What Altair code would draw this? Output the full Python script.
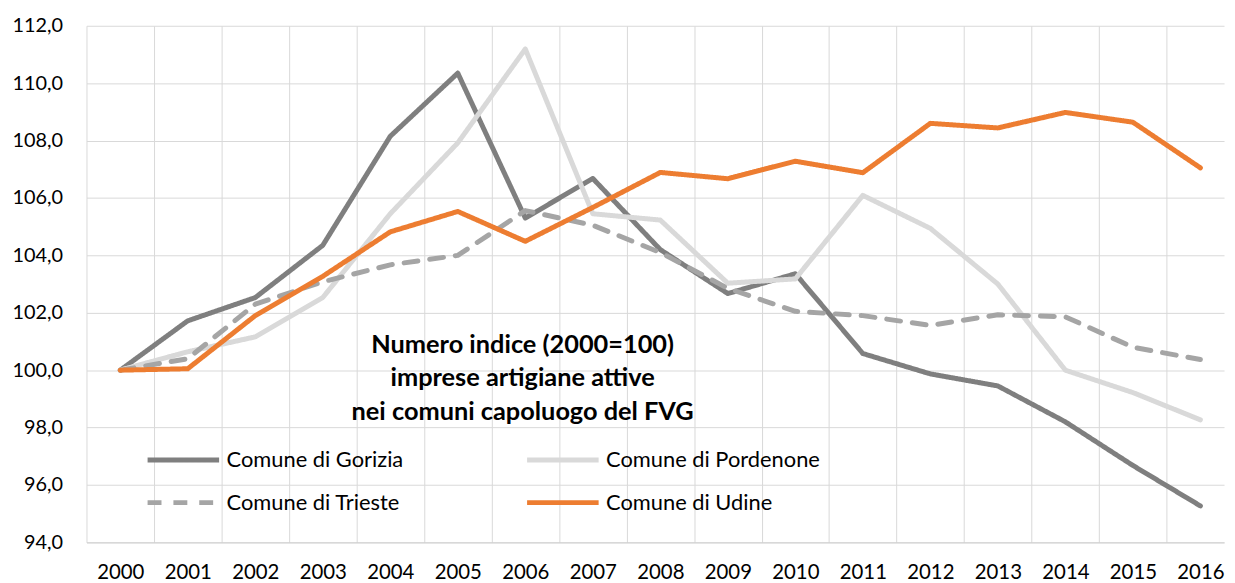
import altair as alt
import pandas as pd

years = list(range(2000, 2017))
gorizia = [100.0, 101.72, 102.53, 104.35, 108.15, 110.35, 105.3, 106.68, 104.2, 102.67, 103.36, 100.58, 99.87, 99.45, 98.2, 96.68, 95.27]
pordenone = [100.0, 100.64, 101.16, 102.53, 105.45, 107.92, 111.19, 105.45, 105.23, 103.03, 103.18, 106.09, 104.94, 103.0, 100.0, 99.22, 98.27]
trieste = [100.0, 100.4, 102.3, 103.08, 103.67, 104.0, 105.56, 105.05, 104.1, 102.85, 102.05, 101.9, 101.56, 101.93, 101.86, 100.8, 100.37]
udine = [100.0, 100.05, 101.9, 103.27, 104.82, 105.53, 104.49, 105.67, 106.89, 106.67, 107.28, 106.88, 108.6, 108.44, 108.98, 108.64, 107.05]

series_names = ["Comune di Gorizia", "Comune di Pordenone", "Comune di Trieste", "Comune di Udine"]
series_values = [gorizia, pordenone, trieste, udine]
series_colors = ["#7f7f7f", "#d9d9d9", "#a5a5a5", "#ed7d31"]
series_dash = [[1, 0], [1, 0], [14, 12], [1, 0]]

title_lines = ["Numero indice (2000=100)", "imprese artigiane attive", "nei comuni capoluogo del FVG"]
y_ticks = list(range(94, 113, 2))
grid_bounds = [y - 0.5 for y in years]

rows = []
for name, vals in zip(series_names, series_values):
    for yr, v in zip(years, vals):
        rows.append({"anno": yr, "indice": v, "comune": name})
df = pd.DataFrame(rows)

FONT = "Lato"
xscale = alt.Scale(domain=[1999.5, 2016.35], nice=False, zero=False)
yscale = alt.Scale(domain=[94, 112], nice=False, zero=False)

legend = alt.Legend(
    title=None, orient="none", legendX=59, legendY=427, columns=2, direction="horizontal",
    symbolType="stroke", symbolSize=5184, symbolStrokeWidth=5,
    labelFontSize=22, labelFont=FONT, labelColor="black", labelOffset=5,
    labelLimit=400, clipHeight=20, rowPadding=21, columnPadding=122, padding=0,
)

grid = alt.Chart(df).mark_point(opacity=0).encode(
    x=alt.X("anno:Q", scale=xscale, title=None,
            axis=alt.Axis(values=grid_bounds, grid=True, gridColor="#d9d9d9", gridWidth=1,
                          labels=False, ticks=False, domain=False, orient="bottom")),
)

lines = alt.Chart(df).mark_line(strokeWidth=5, strokeCap="round", strokeJoin="round").encode(
    x=alt.X("anno:Q", scale=xscale, title=None,
            axis=alt.Axis(values=years, format="d", grid=False, ticks=False, domain=True,
                          domainColor="#d0d0d0", domainWidth=1, labelFontSize=20.5, labelPadding=20,
                          labelFlush=False, labelOverlap=False, orient="bottom")),
    y=alt.Y("indice:Q", scale=yscale, title=None,
            axis=alt.Axis(values=y_ticks, labelExpr="replace(format(datum.value, '.1f'), '.', ',')",
                          grid=True, gridColor="#d9d9d9", gridWidth=1, ticks=False, domain=False,
                          labelPadding=24, labelFontSize=20)),
    color=alt.Color("comune:N", scale=alt.Scale(domain=series_names, range=series_colors), legend=legend),
    strokeDash=alt.StrokeDash("comune:N", scale=alt.Scale(domain=series_names, range=series_dash), legend=legend),
)

title = alt.Chart(pd.DataFrame({"k": [0]})).mark_text(
    text=title_lines, font=FONT, fontSize=25.5, fontWeight="bold", color="black",
    align="center", baseline="top", lineHeight=34,
).encode(x=alt.value(439), y=alt.value(309))

chart = alt.layer(grid, lines, title).resolve_axis(x="independent").properties(
    width=1145, height=520,
    autosize=alt.AutoSizeParams(type="none"),
    padding={"left": 79, "top": 16, "right": 3, "bottom": 39},
).configure_view(stroke=None).configure_axis(
    labelFont=FONT, labelColor="black"
)

chart.save("out.html", embed_options={"renderer": "svg", "actions": False})
